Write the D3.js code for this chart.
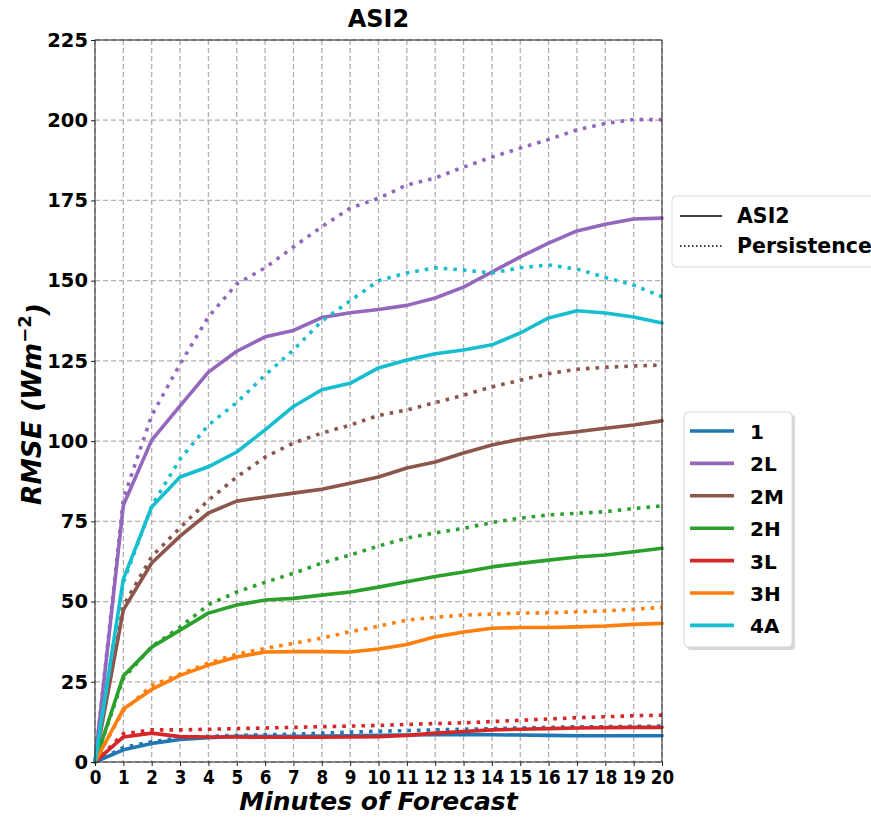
<!DOCTYPE html>
<html>
<head>
<meta charset="utf-8">
<script src="https://cdn.jsdelivr.net/npm/d3@7"></script>
<style>
  body { margin: 0; background: #fff; }
  text { font-family: "DejaVu Sans", sans-serif; font-weight: bold; }
</style>
</head>
<body>
<div id="chart"></div>
<script>
var minutes = d3.range(0, 21);
var sites = ["1", "2L", "2M", "2H", "3L", "3H", "4A"];
var colors = ["#1f77b4", "#9467bd", "#8c564b", "#2ca02c", "#d62728", "#ff7f0e", "#17becf"];

// ASI2 forecast RMSE per site (solid)
var asi2 = {
    "1":  [0, 3.8, 5.8, 7.0, 7.6, 8.0, 8.0, 8.0, 8.1, 8.2, 8.3, 8.4, 8.5, 8.6, 8.5, 8.4, 8.3, 8.2, 8.2, 8.2, 8.2],
    "2L": [0, 80, 100.3, 111, 121.5, 128, 132.5, 134.5, 138.5, 140, 141, 142.3, 144.6, 148, 152.7, 157.4, 161.7, 165.5, 167.6, 169.2, 169.5],
    "2M": [0, 47.4, 62, 70.4, 77.6, 81.3, 82.6, 83.8, 85, 86.9, 88.8, 91.6, 93.5, 96.3, 98.8, 100.6, 101.9, 102.9, 104, 105, 106.3],
    "2H": [0, 26.8, 35.8, 41.1, 46.4, 48.9, 50.5, 51, 52, 53, 54.5, 56.2, 57.8, 59.2, 60.8, 61.9, 62.9, 63.9, 64.5, 65.5, 66.6],
    "3L": [0, 7.8, 9.0, 7.9, 7.8, 7.8, 7.7, 7.7, 7.7, 7.8, 7.9, 8.3, 9.0, 9.5, 10.0, 10.2, 10.4, 10.6, 10.7, 10.8, 10.8],
    "3H": [0, 16.5, 22.6, 27, 30.2, 32.7, 34.3, 34.4, 34.4, 34.3, 35.2, 36.6, 39, 40.5, 41.7, 41.9, 41.9, 42.1, 42.4, 42.9, 43.2],
    "4A": [0, 57, 79.5, 88.8, 92, 96.6, 103.5, 110.8, 116, 118, 122.8, 125.3, 127.2, 128.4, 130, 133.7, 138.4, 140.6, 139.9, 138.7, 136.8]
};

// Persistence RMSE per site (dotted)
var persistence = {
    "1":  [0, 4.5, 6.3, 7.5, 8.0, 8.3, 8.5, 8.7, 9.0, 9.3, 9.6, 9.8, 10.0, 10.2, 10.4, 10.6, 10.8, 11.0, 11.0, 11.1, 11.2],
    "2L": [0, 82, 108, 124, 138.7, 149, 154, 160.5, 166.8, 172.6, 175.7, 179.8, 182, 185.4, 188.5, 191.3, 194, 197, 199, 200.2, 200.2],
    "2M": [0, 48.7, 64, 73, 81.6, 88.8, 95, 99.4, 102.5, 105, 108, 109.7, 112, 114.3, 116.9, 119, 121, 122.4, 123, 123.4, 123.7],
    "2H": [0, 26, 36, 42, 49, 53, 56, 58.8, 62, 64.5, 67.3, 69.8, 71.4, 72.8, 74.6, 76, 77, 77.5, 78, 79, 79.8],
    "3L": [0, 8.8, 10.0, 10.0, 10.2, 10.4, 10.6, 10.8, 11.0, 11.2, 11.4, 11.7, 12.0, 12.2, 12.6, 13.0, 13.4, 13.8, 14.1, 14.4, 14.6],
    "3H": [0, 16, 23.8, 27.4, 30.8, 33.6, 35.4, 37, 38.6, 40.6, 42.3, 44.2, 45.1, 45.8, 46.1, 46.4, 46.5, 46.8, 47.1, 47.6, 48.2],
    "4A": [0, 56, 79.8, 94.4, 105, 112, 120.6, 128.4, 137.4, 143.7, 150, 152.4, 154, 153.3, 152.4, 154, 154.9, 153.6, 151, 148.6, 145]
};

var yTicks = d3.range(0, 226, 25);

const W = 871, H = 818;
const LEFT = 95, RIGHT = 662, TOP = 40, BOTTOM = 762;
const LW = 3.6;

var svg = d3.select("#chart")
    .append("svg")
        .attr("width", W)
        .attr("height", H);

var x = d3.scaleLinear().domain([0, 20]).range([LEFT, RIGHT]);
var y = d3.scaleLinear().domain([0, 225]).range([BOTTOM, TOP]);

// grid
var grid = svg.append("g");
grid.selectAll("line.gx")
    .data(minutes)
    .enter()
    .append("line")
    .attr("x1", d => x(d)).attr("x2", d => x(d))
    .attr("y1", TOP).attr("y2", BOTTOM)
    .attr("stroke", "#b0b0b0")
    .attr("stroke-width", 1.3)
    .attr("stroke-dasharray", "5,3");
grid.selectAll("line.gy")
    .data(yTicks)
    .enter()
    .append("line")
    .attr("x1", LEFT).attr("x2", RIGHT)
    .attr("y1", d => y(d)).attr("y2", d => y(d))
    .attr("stroke", "#b0b0b0")
    .attr("stroke-width", 1.3)
    .attr("stroke-dasharray", "5,3");

var line = d3.line()
    .x((d, i) => x(minutes[i]))
    .y(d => y(d));

var plot = svg.append("g");
sites.forEach(function (s, i) {
    plot.append("path")
        .attr("d", line(asi2[s]))
        .attr("fill", "none")
        .attr("stroke", colors[i])
        .attr("stroke-width", LW)
        .attr("stroke-linejoin", "round")
        .attr("stroke-linecap", "round");
    plot.append("path")
        .attr("d", line(persistence[s]))
        .attr("fill", "none")
        .attr("stroke", colors[i])
        .attr("stroke-width", LW)
        .attr("stroke-dasharray", "3.6,6");
});

// frame
svg.append("rect")
    .attr("x", LEFT).attr("y", TOP)
    .attr("width", RIGHT - LEFT).attr("height", BOTTOM - TOP)
    .attr("fill", "none")
    .attr("stroke", "#222")
    .attr("stroke-width", 1);

// axes
var xAxis = svg.append("g")
    .attr("transform", "translate(0," + BOTTOM + ")")
    .call(d3.axisBottom(x).tickValues(minutes).tickFormat(d3.format("d")).tickSizeOuter(0).tickSize(4));
var yAxis = svg.append("g")
    .attr("transform", "translate(" + LEFT + ",0)")
    .call(d3.axisLeft(y).tickValues(yTicks).tickSizeOuter(0).tickSize(4));
[xAxis, yAxis].forEach(function (a) {
    a.select(".domain").remove();
    a.selectAll("text")
        .attr("fill", "#000")
        .style("font-size", "19.5px")
        .style("font-family", "'DejaVu Sans', sans-serif")
        .style("font-weight", "bold");
    a.selectAll("line").attr("stroke", "#222");
});
// x labels look a bit squeezed in the original
xAxis.selectAll("text").attr("dy", "0.9em").attr("y", 0).attr("transform", "translate(0,4) scale(0.86,1)");
yAxis.selectAll("text").attr("x", -7);

// title and labels
svg.append("text")
    .attr("x", (LEFT + RIGHT) / 2).attr("y", 27)
    .attr("text-anchor", "middle")
    .style("font-size", "24px")
    .text("ASI2");

svg.append("text")
    .attr("x", (LEFT + RIGHT) / 2).attr("y", 810)
    .attr("text-anchor", "middle")
    .style("font-size", "25px")
    .style("font-style", "italic")
    .text("Minutes of Forecast");

var ylab = svg.append("text")
    .attr("transform", "translate(41," + ((TOP + BOTTOM) / 2 + 3) + ") rotate(-90)")
    .attr("text-anchor", "middle")
    .style("font-size", "26.5px")
    .style("font-style", "italic");
ylab.append("tspan").text("RMSE (Wm");
ylab.append("tspan").attr("dy", "-0.55em").style("font-size", "18px").style("font-style", "normal").text("\u22122");
ylab.append("tspan").attr("dy", "0.55em").text(")");

// legend: line styles
var lg1 = svg.append("g");
lg1.append("rect")
    .attr("x", 672).attr("y", 196).attr("width", 210).attr("height", 71)
    .attr("rx", 4).attr("fill", "#fff").attr("stroke", "#d8d8d8").attr("stroke-width", 1);
var styles = [["ASI2", null], ["Persistence", "1.5,2.5"]];
styles.forEach(function (st, i) {
    var yy = 216 + i * 30;
    var l = lg1.append("line")
        .attr("x1", 680).attr("x2", 722).attr("y1", yy).attr("y2", yy)
        .attr("stroke", "#000").attr("stroke-width", 1.6);
    if (st[1]) l.attr("stroke-dasharray", st[1]);
    lg1.append("text")
        .attr("x", 737).attr("y", yy + 7)
        .style("font-size", "20.5px")
        .text(st[0]);
});

// legend: sites
var lg2 = svg.append("g");
lg2.append("rect")
    .attr("x", 687).attr("y", 415).attr("width", 108).attr("height", 235)
    .attr("rx", 4).attr("fill", "#bdbdbd").attr("opacity", 0.6);
lg2.append("rect")
    .attr("x", 684).attr("y", 412).attr("width", 108).attr("height", 235)
    .attr("rx", 4).attr("fill", "#fff").attr("stroke", "#d8d8d8").attr("stroke-width", 1);
sites.forEach(function (s, i) {
    var yy = 431 + i * 32.4;
    lg2.append("line")
        .attr("x1", 690).attr("x2", 734).attr("y1", yy).attr("y2", yy)
        .attr("stroke", colors[i]).attr("stroke-width", 3.6);
    lg2.append("text")
        .attr("x", 750).attr("y", yy + 8)
        .style("font-size", "20px")
        .text(s);
});
</script>
</body>
</html>
